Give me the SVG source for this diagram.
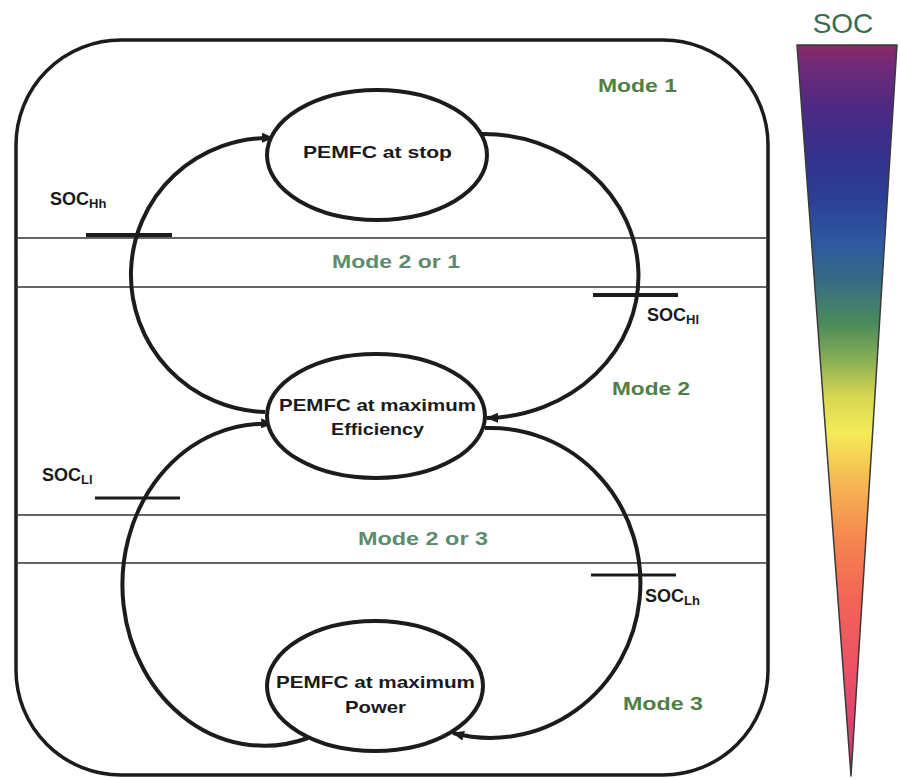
<svg xmlns="http://www.w3.org/2000/svg" width="900" height="779" viewBox="0 0 900 779">
<defs>
<style>
.frame{fill:none;stroke:#1c1c1c;stroke-width:3.5}
.band{stroke:#333;stroke-width:1.5}
.node ellipse{fill:#fff;stroke:#1c1c1c;stroke-width:4}
.node text{font-family:"Liberation Sans",Arial,sans-serif;font-weight:bold;font-size:17px;fill:#1a1a1a}
.conn{fill:none;stroke:#1c1c1c;stroke-width:4}
.mark{stroke:#1c1c1c;stroke-width:4}
.soc{font-family:"Liberation Sans",Arial,sans-serif;font-weight:bold;font-size:18px;fill:#1a1a1a}
.sub{font-size:13px}
.mode{font-family:"Liberation Sans",Arial,sans-serif;font-weight:bold;font-size:19px;fill:#4f7f48}
.mode2{font-family:"Liberation Sans",Arial,sans-serif;font-weight:bold;font-size:19px;fill:#5b8c6e}
</style>
<marker id="arr" viewBox="0 0 12 10" refX="11" refY="5" markerWidth="12" markerHeight="10" markerUnits="userSpaceOnUse" orient="auto">
<path d="M0,0 L12,5 L0,10 z" fill="#1c1c1c"/>
</marker>
<linearGradient id="socg" gradientUnits="userSpaceOnUse" x1="0" y1="45" x2="0" y2="776">
<stop offset="0" stop-color="#8c2a66"/>
<stop offset="0.03" stop-color="#6e2a78"/>
<stop offset="0.09" stop-color="#4c2a85"/>
<stop offset="0.15" stop-color="#35308c"/>
<stop offset="0.21" stop-color="#2b3f96"/>
<stop offset="0.27" stop-color="#2e58a0"/>
<stop offset="0.32" stop-color="#366a84"/>
<stop offset="0.38" stop-color="#4a8a5c"/>
<stop offset="0.43" stop-color="#86ae52"/>
<stop offset="0.48" stop-color="#d6d652"/>
<stop offset="0.53" stop-color="#f4ec58"/>
<stop offset="0.60" stop-color="#f6b652"/>
<stop offset="0.68" stop-color="#f58350"/>
<stop offset="0.76" stop-color="#f26456"/>
<stop offset="0.87" stop-color="#ea4e68"/>
<stop offset="1" stop-color="#c83a72"/>
</linearGradient>
</defs>
<rect width="900" height="779" fill="#fff"/>

<g id="frame">
<rect class="frame" x="16" y="40" width="752" height="735" rx="105" ry="105"/>
<line class="band" x1="16" y1="238" x2="768" y2="238"/>
<line class="band" x1="16" y1="287" x2="768" y2="287"/>
<line class="band" x1="16" y1="515" x2="768" y2="515"/>
<line class="band" x1="16" y1="563" x2="768" y2="563"/>
</g>

<g id="connectors">
<path class="conn" d="M 265 412 A 138 137 0 0 1 273 138" marker-end="url(#arr)"/>
<path class="conn" d="M 480 134 A 155 142 0 0 1 487 418" marker-end="url(#arr)"/>
<path class="conn" d="M 308 738 A 142 161 0 1 1 272 424" marker-end="url(#arr)"/>
<path class="conn" d="M 485 428 A 150 155 0 1 1 453 733" marker-end="url(#arr)"/>
</g>

<g id="node-stop" class="node">
<ellipse cx="377" cy="155" rx="110" ry="65"/>
<text x="303" y="158" textLength="149" lengthAdjust="spacingAndGlyphs">PEMFC at stop</text>
</g>
<g id="node-efficiency" class="node">
<ellipse cx="376" cy="416" rx="109" ry="62"/>
<text x="279" y="411" textLength="197" lengthAdjust="spacingAndGlyphs">PEMFC at maximum</text>
<text x="331" y="435" textLength="93" lengthAdjust="spacingAndGlyphs">Efficiency</text>
</g>
<g id="node-power" class="node">
<ellipse cx="375" cy="686" rx="108" ry="65"/>
<text x="276" y="688" textLength="199" lengthAdjust="spacingAndGlyphs">PEMFC at maximum</text>
<text x="345" y="713" textLength="61" lengthAdjust="spacingAndGlyphs">Power</text>
</g>

<g id="thresholds">
<line class="mark" x1="86" y1="235" x2="172" y2="235"/>
<line class="mark" x1="593" y1="295" x2="678" y2="295"/>
<line class="mark" x1="95" y1="498" x2="180" y2="498" style="stroke-width:3"/>
<line class="mark" x1="591" y1="575" x2="676" y2="575" style="stroke-width:3"/>
<text class="soc" x="50" y="205">SOC<tspan class="sub" dy="3">Hh</tspan></text>
<text class="soc" x="647" y="321">SOC<tspan class="sub" dy="3">Hl</tspan></text>
<text class="soc" x="42" y="481">SOC<tspan class="sub" dy="3">Ll</tspan></text>
<text class="soc" x="645" y="602">SOC<tspan class="sub" dy="3">Lh</tspan></text>
</g>

<g id="modes">
<text class="mode" x="598" y="92" textLength="79" lengthAdjust="spacingAndGlyphs">Mode 1</text>
<text class="mode2" x="332" y="268" textLength="128" lengthAdjust="spacingAndGlyphs">Mode 2 or 1</text>
<text class="mode" x="612" y="395" textLength="78" lengthAdjust="spacingAndGlyphs">Mode 2</text>
<text class="mode2" x="358" y="545" textLength="130" lengthAdjust="spacingAndGlyphs">Mode 2 or 3</text>
<text class="mode" x="623" y="710" textLength="80" lengthAdjust="spacingAndGlyphs">Mode 3</text>
</g>

<g id="soc-scale">
<text x="843" y="33" text-anchor="middle" font-family="'Liberation Sans',Arial,sans-serif" font-size="28" fill="#3d6a4a">SOC</text>
<polygon points="797,45 897,45 851,776" fill="url(#socg)" stroke="#3a3a3a" stroke-width="1.5" stroke-linejoin="round"/>
</g>
</svg>
